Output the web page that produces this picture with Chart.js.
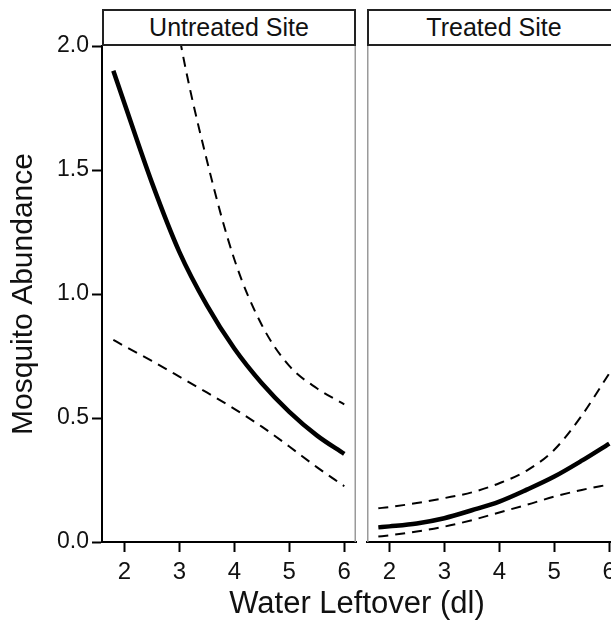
<!DOCTYPE html>
<html>
<head>
<meta charset="utf-8">
<script src="https://cdn.jsdelivr.net/npm/chart.js@4"></script>
<style>
  html, body { margin: 0; padding: 0; background: #fff; overflow: hidden; }
  body { width: 611px; height: 621px; position: relative; font-family: "Liberation Sans", Arial, sans-serif; color: #111; }
  canvas { position: absolute; top: 0; }
  #leftPanel { left: 0; }
  #rightPanel { left: 362px; }
  .strip {
    position: absolute; top: 9px; height: 37px; width: 254px;
    box-sizing: border-box; border: 2px solid #222; background: #fff;
    font-size: 25px; text-align: center; line-height: 33px;
  }
  #xTitle {
    position: absolute; left: 157px; width: 400px; top: 585px;
    text-align: center; font-size: 31px; line-height: 36px;
  }
</style>
</head>
<body>
<canvas id="leftPanel" width="362" height="590"></canvas>
<canvas id="rightPanel" width="265" height="590"></canvas>
<div class="strip" id="stripLeft" style="left:102px"></div>
<div class="strip" id="stripRight" style="left:367px"></div>
<div id="xTitle"></div>

<script>
// Data
const siteNames = ['Untreated Site', 'Treated Site'];
const waterLeft = [1.8, 2, 2.5, 3, 3.5, 4, 4.5, 5, 5.5, 6];

const untreatedFit   = [1.90, 1.77, 1.45, 1.17, 0.955, 0.78, 0.64, 0.525, 0.43, 0.355];
const untreatedUpper = [4.20, 3.70, 2.75, 2.04, 1.54, 1.14, 0.875, 0.71, 0.62, 0.555];
const untreatedLower = [0.815, 0.79, 0.73, 0.667, 0.603, 0.537, 0.465, 0.385, 0.302, 0.225];

const treatedFit   = [0.059, 0.063, 0.075, 0.096, 0.128, 0.163, 0.211, 0.264, 0.328, 0.397];
const treatedUpper = [0.136, 0.141, 0.157, 0.177, 0.200, 0.237, 0.288, 0.372, 0.51, 0.68];
const treatedLower = [0.022, 0.027, 0.042, 0.062, 0.088, 0.119, 0.150, 0.183, 0.210, 0.232];

const xTicks = [2, 3, 4, 5, 6];
const yTicks = [0, 0.5, 1.0, 1.5, 2.0];
const xTitle = 'Water Leftover (dl)';
const yTitle = 'Mosquito Abundance';

document.getElementById('stripLeft').textContent = siteNames[0];
document.getElementById('stripRight').textContent = siteNames[1];
document.getElementById('xTitle').textContent = xTitle;

const FONT = '"Liberation Sans", Arial, sans-serif';
const INK = '#111';

function toPoints(values) {
    return waterLeft.map((x, i) => ({ x: x, y: values[i] }));
}

function makeDatasets(fit, upper, lower) {
    const dashed = { borderColor: '#000', borderWidth: 2, borderDash: [10, 7], pointRadius: 0, cubicInterpolationMode: 'monotone', clip: 0 };
    return [
        Object.assign({ label: 'upper', data: toPoints(upper) }, dashed),
        Object.assign({ label: 'lower', data: toPoints(lower) }, dashed),
        { label: 'fit', data: toPoints(fit), borderColor: '#000', borderWidth: 4.5, pointRadius: 0, cubicInterpolationMode: 'monotone', clip: 0 }
    ];
}

// gray panel edges (ggplot style panel border)
const panelEdges = {
    id: 'panelEdges',
    afterDraw(chart, args, opts) {
        const { ctx, chartArea } = chart;
        ctx.save();
        ctx.strokeStyle = '#9a9a9a';
        ctx.lineWidth = 1.5;
        ctx.beginPath();
        if (opts.left) {
            ctx.moveTo(chartArea.left + 0.75, chartArea.top);
            ctx.lineTo(chartArea.left + 0.75, chartArea.bottom);
        }
        ctx.moveTo(chartArea.right - 0.75, chartArea.top);
        ctx.lineTo(chartArea.right - 0.75, chartArea.bottom);
        ctx.stroke();
        ctx.restore();
    }
};

function xScale() {
    return {
        type: 'linear',
        min: 1.594,
        max: 6.213,
        afterBuildTicks: scale => { scale.ticks = xTicks.map(v => ({ value: v })); },
        afterFit: scale => { scale.height = 48; },
        border: { color: '#000', width: 2 },
        grid: { drawOnChartArea: false, drawTicks: true, tickLength: 10, tickColor: '#000', tickWidth: 2 },
        ticks: { color: INK, font: { family: FONT, size: 24 }, padding: 6, maxRotation: 0 }
    };
}

function buildPanel(canvasId, datasets, showY) {
    const yAxis = {
        type: 'linear',
        min: 0,
        max: 2,
        display: showY,
        afterBuildTicks: scale => { scale.ticks = yTicks.map(v => ({ value: v })); },
        border: { color: '#000', width: 2 },
        grid: { drawOnChartArea: false, drawTicks: true, tickLength: 10, tickColor: '#000', tickWidth: 2 },
        ticks: { color: INK, font: { family: FONT, size: 23 }, padding: 3, callback: v => v.toFixed(1) },
        title: { display: true, text: yTitle, color: INK, font: { family: FONT, size: 30 }, padding: { top: 6, bottom: 0 } }
    };
    if (showY) yAxis.afterFit = scale => { scale.width = 102; };

    return new Chart(document.getElementById(canvasId), {
        type: 'line',
        data: { datasets: datasets },
        options: {
            responsive: false,
            animation: false,
            layout: { padding: showY ? { top: 46, right: 6, left: 0 } : { top: 46, right: 6, left: 5 } },
            plugins: {
                legend: { display: false },
                tooltip: { enabled: false },
                panelEdges: { left: !showY }
            },
            scales: { x: xScale(), y: yAxis }
        },
        plugins: [panelEdges]
    });
}

buildPanel('leftPanel', makeDatasets(untreatedFit, untreatedUpper, untreatedLower), true);
buildPanel('rightPanel', makeDatasets(treatedFit, treatedUpper, treatedLower), false);
</script>
</body>
</html>
